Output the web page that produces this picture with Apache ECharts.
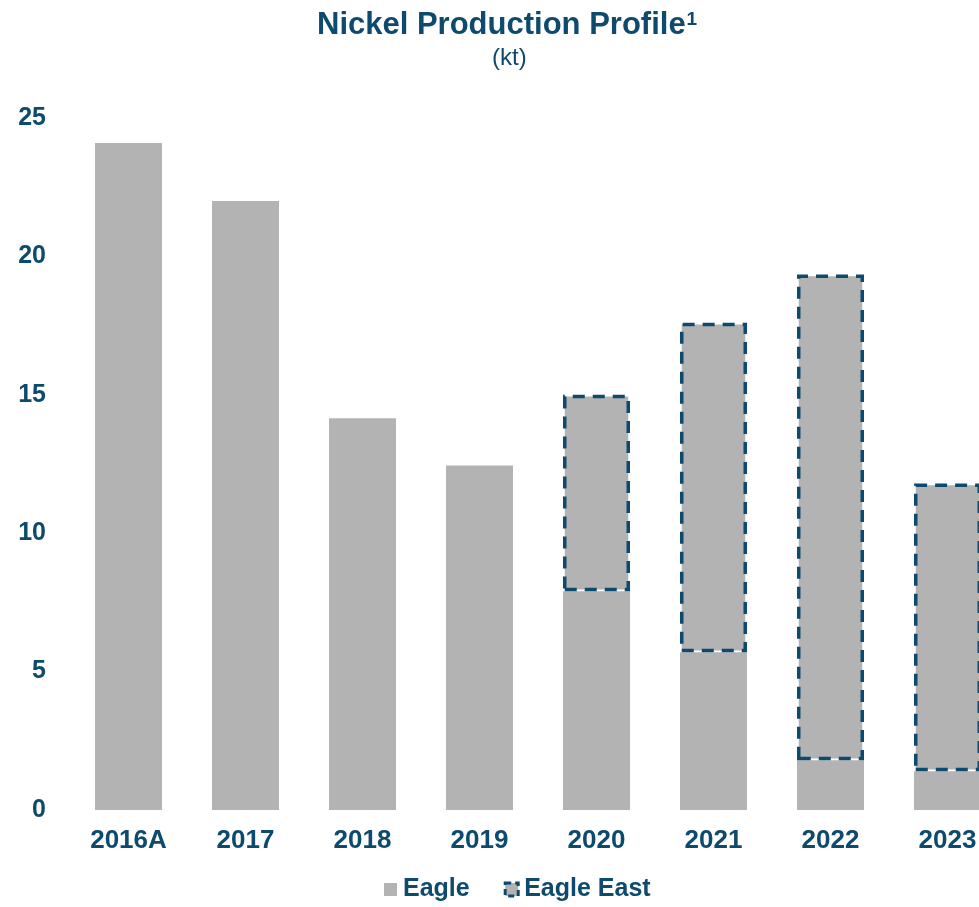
<!DOCTYPE html>
<html>
<head>
<meta charset="utf-8">
<title>Nickel Production Profile</title>
<script src="https://cdn.jsdelivr.net/npm/echarts@6/dist/echarts.min.js"></script>
<style>
html, body { margin: 0; padding: 0; background: #fff; }
#chart { width: 979px; height: 907px; }
</style>
</head>
<body>
<div id="chart"></div>
<script>
// data (kt)
const years = ['2016A', '2017', '2018', '2019', '2020', '2021', '2022', '2023']
const eagle = [24.1, 22.0, 14.15, 12.45, 7.9, 5.7, 1.8, 1.4]
const eagleEast = ['-', '-', '-', '-', 7.1, 11.9, 17.55, 10.4]
const yTicks = [0, 5, 10, 15, 20, 25]

const navy = '#0d4a6e'
const grey = '#b3b3b3'
const font = 'Liberation Sans, Arial, sans-serif'

const chart = echarts.init(document.getElementById('chart'))

const option = {
  animation: false,
  title: [{
    text: '{a|Nickel Production Profile}{s|1}',
    left: 312,
    top: 5,
    textStyle: {
      rich: {
        a: { fontFamily: font, fontWeight: 'bold', fontSize: 31, color: navy },
        s: { fontFamily: font, fontWeight: 'bold', fontSize: 19, color: navy, verticalAlign: 'top', padding: [0, 0, 12, 1] }
      }
    }
  }, {
    text: '(kt)',
    left: 487,
    top: 41,
    textStyle: { fontFamily: font, fontWeight: 'normal', fontSize: 24, color: navy }
  }],
  grid: {
    left: 70,
    top: 118,
    width: 936,
    height: 692,
    containLabel: false,
    outerBoundsMode: 'none'
  },
  legend: {
    left: 379,
    top: 872,
    itemWidth: 13,
    itemHeight: 13,
    itemGap: 34,
    textStyle: { fontFamily: font, fontWeight: 'bold', fontSize: 25, color: navy, padding: [0, 0, 0, 1] },
    data: [
      { name: 'Eagle', icon: 'rect', itemStyle: { color: grey, borderWidth: 0 } },
      { name: 'Eagle East', icon: 'rect', itemStyle: { color: grey, borderColor: navy, borderWidth: 3, borderType: [6, 4] } }
    ]
  },
  xAxis: {
    type: 'category',
    data: years,
    axisLine: { show: false },
    axisTick: { show: false },
    axisLabel: {
      margin: 18,
      interval: 0,
      fontFamily: font,
      fontWeight: 'bold',
      fontSize: 26,
      color: navy
    }
  },
  yAxis: {
    type: 'value',
    min: 0,
    max: yTicks[yTicks.length - 1],
    interval: yTicks[1] - yTicks[0],
    axisLine: { show: false },
    axisTick: { show: false },
    splitLine: { show: false },
    axisLabel: {
      margin: 24,
      fontFamily: font,
      fontWeight: 'bold',
      fontSize: 25,
      color: navy
    }
  },
  series: [{
    name: 'Eagle',
    type: 'bar',
    stack: 'total',
    barWidth: 67,
    itemStyle: { color: grey },
    data: eagle
  }, {
    name: 'Eagle East',
    type: 'bar',
    stack: 'total',
    barWidth: 67,
    itemStyle: {
      color: grey,
      borderColor: navy,
      borderWidth: 3.5,
      borderType: [12, 8]
    },
    data: eagleEast
  }]
}

chart.setOption(option)
</script>
</body>
</html>
